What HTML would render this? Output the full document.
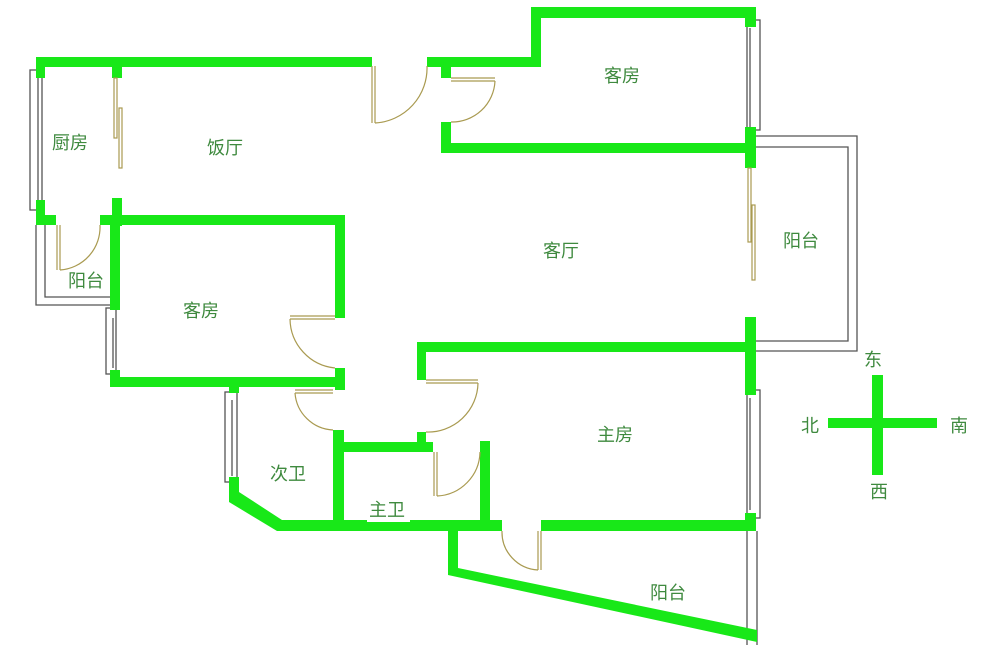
<!DOCTYPE html>
<html><head><meta charset="utf-8"><style>
html,body{margin:0;padding:0;background:#fff;}
svg{display:block}
text{font-family:"Liberation Sans","Noto Sans CJK SC",sans-serif;font-size:18px;fill:#3f8a3f;}
</style></head><body>
<svg width="1000" height="655" viewBox="0 0 1000 655" xmlns="http://www.w3.org/2000/svg">
<rect width="1000" height="655" fill="#fff"/>
<g fill="none" stroke="#555" stroke-width="1.3">
<!-- right balcony outline -->
<polyline points="756,136 857,136 857,351 756,351"/>
<polyline points="756,147 848,147 848,341 756,341"/>
<!-- kitchen balcony outline -->
<polyline points="36,225 36,305 110,305"/>
<polyline points="45,225 45,297 110,297"/>
<!-- windows -->
<rect x="30" y="70" width="12" height="140"/><line x1="38" y1="78" x2="38" y2="200"/>
<rect x="747" y="20" width="13" height="110"/><line x1="750" y1="28" x2="750" y2="127"/>
<rect x="747" y="390" width="13" height="128"/><line x1="750" y1="398" x2="750" y2="510"/>
<rect x="106" y="308" width="10" height="66"/><line x1="113" y1="318" x2="113" y2="368"/>
<rect x="225" y="392" width="12" height="90"/><line x1="232" y1="400" x2="232" y2="476"/>
<!-- balcony right line -->
<line x1="747" y1="531" x2="747" y2="645"/><line x1="757" y1="531" x2="757" y2="645"/>
</g>
<g fill="#18e818">
<!-- top walls -->
<rect x="36" y="57" width="336" height="10"/>
<rect x="427" y="57" width="114" height="10"/>
<rect x="531" y="7" width="225" height="11"/>
<rect x="531" y="7" width="10" height="60"/>
<rect x="745" y="7" width="11" height="20"/>
<rect x="36" y="57" width="9" height="21"/>
<rect x="112" y="57" width="10" height="21"/>
<rect x="441" y="57" width="10" height="21"/>
<rect x="441" y="122" width="10" height="31"/>
<rect x="441" y="143" width="315" height="10"/>
<rect x="745" y="127" width="11" height="41"/>
<!-- kitchen bottom corner -->
<rect x="36" y="200" width="9" height="25"/>
<rect x="36" y="215" width="20" height="10"/>
<rect x="112" y="198" width="10" height="28"/>
<rect x="100" y="215" width="245" height="10"/>
<rect x="110" y="215" width="10" height="95"/>
<rect x="110" y="370" width="10" height="17"/>
<rect x="335" y="215" width="10" height="103"/>
<rect x="335" y="368" width="10" height="22"/>
<rect x="110" y="377" width="235" height="10"/>
<!-- right wall middle -->
<rect x="745" y="317" width="11" height="78"/>
<rect x="417" y="342" width="339" height="10"/>
<rect x="417" y="342" width="9" height="38"/>
<rect x="745" y="513" width="11" height="18"/>
<!-- baths -->
<rect x="229" y="387" width="10" height="6"/>
<polygon points="229,477 239,477 239,492 282,520 282,531 277,531 229,502"/>
<rect x="277" y="520" width="225" height="11"/>
<rect x="541" y="520" width="215" height="11"/>
<rect x="333" y="430" width="11" height="101"/>
<rect x="333" y="442" width="100" height="10"/>
<rect x="417" y="432" width="9" height="12"/>
<rect x="480" y="441" width="10" height="90"/>
<!-- lower balcony -->
<rect x="448" y="531" width="10" height="36"/>
<polygon points="448,562 458,562 458,568 757,630 757,642 448,575"/>
<!-- compass -->
<rect x="828" y="418" width="109" height="10"/>
<rect x="872" y="375" width="11" height="100"/>
</g>
<!-- doors -->
<g fill="none" stroke="#a99a50" stroke-width="1.2">
<line x1="372" y1="66" x2="372" y2="123"/><line x1="375" y1="66" x2="375" y2="123"/>
<path d="M375,123 A55,55 0 0 0 427,66"/>
<line x1="451" y1="78" x2="495" y2="78"/><line x1="451" y1="81" x2="495" y2="81"/>
<path d="M495,81 A43,43 0 0 1 451,122"/>
<line x1="57" y1="225" x2="57" y2="270"/><line x1="60" y1="225" x2="60" y2="270"/>
<path d="M60,270 A43,43 0 0 0 100,225"/>
<rect x="114" y="78" width="3" height="60"/><rect x="119" y="108" width="3" height="60"/>
<rect x="748" y="168" width="3" height="74"/><rect x="752" y="205" width="3" height="75"/>
<line x1="290" y1="316" x2="335" y2="316"/><line x1="290" y1="319" x2="335" y2="319"/>
<path d="M290,319 A50,50 0 0 0 335,368"/>
<line x1="295" y1="390" x2="333" y2="390"/><line x1="295" y1="393" x2="333" y2="393"/>
<path d="M295,393 A40,40 0 0 0 333,430"/>
<line x1="426" y1="380" x2="478" y2="380"/><line x1="426" y1="383" x2="478" y2="383"/>
<path d="M478,383 A50,50 0 0 1 426,432"/>
<line x1="434" y1="452" x2="434" y2="496"/><line x1="437" y1="452" x2="437" y2="496"/>
<path d="M437,496 A45,45 0 0 0 480,452"/>
<line x1="538" y1="531" x2="538" y2="570"/><line x1="541" y1="531" x2="541" y2="570"/>
<path d="M538,570 A38,38 0 0 1 502,531"/>
</g>
<rect x="367" y="516" width="43" height="6" fill="#fff"/>
<g>
<text x="604" y="82">客房</text>
<text x="52" y="149">厨房</text>
<text x="207" y="154">饭厅</text>
<text x="68" y="287">阳台</text>
<text x="543" y="257">客厅</text>
<text x="783" y="247">阳台</text>
<text x="183" y="317">客房</text>
<text x="597" y="441">主房</text>
<text x="270" y="480">次卫</text>
<text x="369" y="516">主卫</text>
<text x="650" y="599">阳台</text>
<text x="864" y="366" font-size="16">东</text>
<text x="801" y="432" font-size="16">北</text>
<text x="950" y="432" font-size="16">南</text>
<text x="870" y="498" font-size="16">西</text>
</g>
</svg>
</body></html>
